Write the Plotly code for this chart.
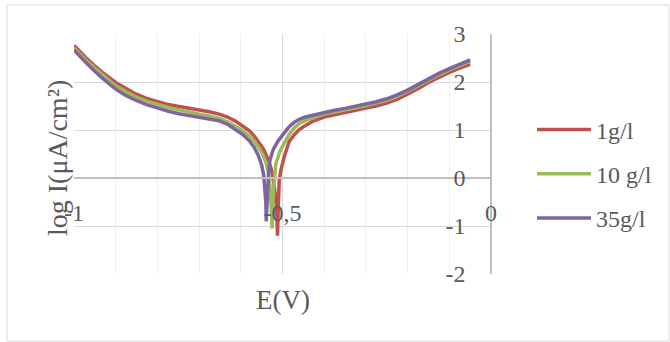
import plotly.graph_objects as go

# ---- data ----
series_names = ["1g/l", "10 g/l", "35g/l"]
series_colors = ["#C0504D", "#9BBB59", "#8064A2"]

E_1 = [-1.0, -0.986, -0.972, -0.952, -0.932, -0.9, -0.876, -0.852, -0.826, -0.8, -0.774, -0.748,
       -0.724, -0.7, -0.676, -0.652, -0.632, -0.612, -0.596, -0.58, -0.568, -0.556, -0.547, -0.54,
       -0.534, -0.528, -0.524, -0.52, -0.517, -0.514, -0.512, -0.510, -0.508, -0.504, -0.5,
       -0.495, -0.49, -0.484, -0.472, -0.46, -0.444, -0.428, -0.4, -0.375, -0.35, -0.325, -0.3,
       -0.275, -0.25, -0.225, -0.2, -0.175, -0.15, -0.125, -0.1, -0.075, -0.05]
logI_1 = [2.76, 2.63, 2.51, 2.35, 2.20, 1.99, 1.86, 1.75, 1.66, 1.59, 1.53, 1.49,
          1.455, 1.42, 1.38, 1.33, 1.27, 1.18, 1.09, 0.99, 0.88, 0.74, 0.62, 0.50,
          0.37, 0.22, 0.08, -0.12, -0.36, -0.68, -1.20, -0.60, -0.06, 0.16, 0.33,
          0.47, 0.60, 0.76, 0.90, 1.01, 1.10, 1.18, 1.27, 1.32, 1.37, 1.415, 1.46,
          1.50, 1.56, 1.64, 1.74, 1.86, 1.99, 2.10, 2.20, 2.29, 2.37]

E_10 = [-1.0, -0.986, -0.972, -0.952, -0.932, -0.9, -0.876, -0.852, -0.826, -0.8, -0.774, -0.748,
        -0.724, -0.7, -0.676, -0.652, -0.632, -0.612, -0.596, -0.58, -0.568, -0.557, -0.548,
        -0.54, -0.535, -0.53, -0.527, -0.526, -0.525, -0.522, -0.516, -0.505, -0.496, -0.484,
        -0.472, -0.46, -0.445, -0.43, -0.4, -0.375, -0.35, -0.325, -0.3,
        -0.275, -0.25, -0.225, -0.2, -0.175, -0.15, -0.125, -0.1, -0.075, -0.05]
logI_10 = [2.71, 2.58, 2.46, 2.30, 2.15, 1.92, 1.80, 1.69, 1.60, 1.53, 1.47, 1.42,
           1.37, 1.33, 1.29, 1.24, 1.17, 1.08, 0.99, 0.88, 0.77, 0.64, 0.50,
           0.33, 0.15, -0.15, -0.50, -0.80, -1.05, -0.30, 0.30, 0.58, 0.72, 0.91,
           1.04, 1.13, 1.20, 1.25, 1.33, 1.38, 1.42, 1.465, 1.51,
           1.56, 1.62, 1.70, 1.80, 1.92, 2.04, 2.15, 2.25, 2.34, 2.43]

E_35 = [-1.0, -0.986, -0.972, -0.952, -0.932, -0.9, -0.876, -0.852, -0.826, -0.8, -0.774, -0.748,
        -0.724, -0.7, -0.676, -0.652, -0.632, -0.612, -0.596, -0.58, -0.568, -0.558, -0.55,
        -0.545, -0.542, -0.540, -0.539, -0.537, -0.534, -0.53, -0.522, -0.51, -0.496, -0.484,
        -0.472, -0.46, -0.445, -0.43, -0.4, -0.375, -0.35, -0.325, -0.3,
        -0.275, -0.25, -0.225, -0.2, -0.175, -0.15, -0.125, -0.1, -0.075, -0.05]
logI_35 = [2.67, 2.53, 2.41, 2.24, 2.08, 1.85, 1.72, 1.62, 1.53, 1.46, 1.39, 1.34,
           1.30, 1.26, 1.225, 1.19, 1.12, 1.01, 0.91, 0.78, 0.64, 0.47, 0.27,
           0.05, -0.20, -0.50, -0.90, -0.40, 0.0, 0.38, 0.60, 0.78, 0.95, 1.07,
           1.16, 1.22, 1.27, 1.30, 1.37, 1.41, 1.45, 1.495, 1.54,
           1.59, 1.65, 1.73, 1.83, 1.95, 2.07, 2.18, 2.28, 2.37, 2.46]

x_tick_vals = [-1, -0.5, 0]
x_tick_text = ["-1", "-0,5", "0"]
y_tick_vals = [-2, -1, 0, 1, 2, 3]
y_tick_text = ["-2", "-1", "0", "1", "2", "3"]

x_title = "E(V)"
y_title = "log I(μA/cm²)"

FONT = "Liberation Serif, Times New Roman, serif"
TXT = "#595959"

fig = go.Figure()
for i, (E, L) in enumerate([(E_1, logI_1), (E_10, logI_10), (E_35, logI_35)]):
    fig.add_trace(go.Scatter(
        x=E, y=L, mode="lines", name=series_names[i],
        legendgroup=f"g{i}",
        line=dict(color=series_colors[i], width=3.5),
    ))

# plot area: left 74, right 491, top 34, bottom 274 (px)
W, H = 670, 342
L_, R_, T_, B_ = 74, 491, 34, 274
pw, ph = R_ - L_, B_ - T_

fig.update_layout(
    width=W, height=H,
    margin=dict(l=L_, r=W - R_, t=T_, b=H - B_, pad=0),
    paper_bgcolor="white", plot_bgcolor="white",
    font=dict(family=FONT, color=TXT, size=24),
    showlegend=True,
    legend=dict(x=(532 - L_) / pw, y=(B_ - 174) / ph, xanchor="left", yanchor="middle",
                font=dict(family=FONT, size=24, color=TXT),
                traceorder="grouped", tracegroupgap=10, itemwidth=54,
                bgcolor="rgba(0,0,0,0)"),
    xaxis=dict(range=[-1, 0], tickvals=x_tick_vals, ticktext=x_tick_text,
               showgrid=True, gridcolor="#D9D9D9", gridwidth=1,
               minor=dict(dtick=0.1, showgrid=True, gridcolor="#EFEFEF", gridwidth=1),
               zeroline=False, showline=True, linecolor="#BFBFBF", linewidth=1.5,
               anchor="free", position=2 / 5, ticks="", ticklabelstandoff=13,
               tickfont=dict(family=FONT, size=24, color=TXT), fixedrange=True),
    yaxis=dict(range=[-2, 3], tickvals=y_tick_vals, ticktext=y_tick_text,
               showgrid=True, gridcolor="#D9D9D9", gridwidth=1,
               zeroline=False, showline=True, linecolor="#BFBFBF", linewidth=1.5,
               anchor="free", position=1.0, side="left", ticks="", ticklabelstandoff=20,
               tickfont=dict(family=FONT, size=24, color=TXT), fixedrange=True),
    annotations=[
        dict(text=x_title, xref="paper", yref="paper", x=0.5, y=(B_ - 300) / ph,
             showarrow=False, xanchor="center", yanchor="middle",
             font=dict(family=FONT, size=27, color=TXT)),
        dict(text=y_title, xref="paper", yref="paper", x=(57 - L_) / pw, y=(B_ - 158) / ph,
             showarrow=False, xanchor="center", yanchor="middle", textangle=-90,
             font=dict(family=FONT, size=28, color=TXT)),
    ],
    shapes=[dict(type="rect", xref="paper", yref="paper",
                 x0=(7 - L_) / pw, x1=(669 - L_) / pw,
                 y0=(B_ - 341) / ph, y1=(B_ - 5) / ph,
                 line=dict(color="#D9D9D9", width=1), fillcolor="rgba(0,0,0,0)", layer="below")],
)

fig.write_html("out.html", config={"displayModeBar": False},
               post_script="document.body.style.margin='0';")
